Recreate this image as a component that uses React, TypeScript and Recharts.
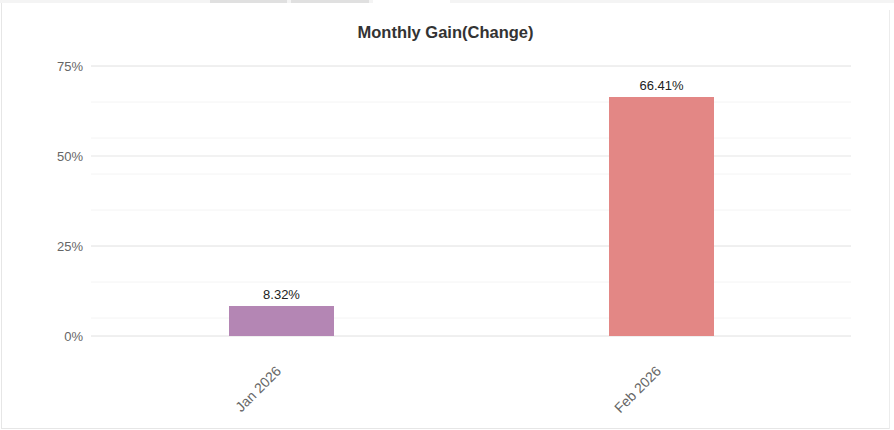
import React from "react";
import { BarChart, Bar, XAxis, YAxis, CartesianGrid, Cell, LabelList } from "recharts";

const months = ["Jan 2026", "Feb 2026"];
const gains = [8.32, 66.41];
const barColors = ["#b486b4", "#e38785"];
const yTicks = [0, 25, 50, 75];
const minorTicks = [0, 5, 10, 15, 20, 25, 30, 35, 40, 45, 50, 55, 60, 65, 70, 75];
const title = "Monthly Gain(Change)";

const data = months.map((m, i) => ({ month: m, gain: gains[i] }));

const FONT = '"Liberation Sans", Arial, sans-serif';

const XTick = (props: any) => {
  const { x, y, payload } = props;
  const ax = x + 1;
  const ay = y + 28;
  return (
    <text
      x={ax}
      y={ay}
      textAnchor="end"
      fill="#666"
      fontSize={14}
      fontFamily={FONT}
      transform={`rotate(-45, ${ax}, ${ay})`}
    >
      {payload.value}
    </text>
  );
};

export default function App() {
  return (
    <div style={{ position: "absolute", left: 0, top: 0, width: 894, height: 430, background: "#fff", overflow: "hidden" }}>
      {/* top strip and tabs */}
      <div style={{ position: "absolute", left: 0, top: 0, width: 373, height: 3, background: "#f4f4f4" }} />
      <div style={{ position: "absolute", left: 450, top: 0, width: 444, height: 3, background: "#f4f4f4" }} />
      <div style={{ position: "absolute", left: 210, top: 0, width: 77, height: 3, background: "#e0e0e0" }} />
      <div style={{ position: "absolute", left: 291, top: 0, width: 78, height: 3, background: "#e0e0e0" }} />
      {/* borders */}
      <div style={{ position: "absolute", left: 1, top: 3, width: 1, height: 426, background: "#e6e6e6" }} />
      <div style={{ position: "absolute", left: 1, top: 428, width: 889, height: 1, background: "#e6e6e6" }} />
      <div style={{ position: "absolute", left: 889, top: 10, width: 1, height: 419, background: "#ececec" }} />
      {/* title */}
      <div
        style={{
          position: "absolute",
          left: 0,
          top: 24,
          width: 891,
          textAlign: "center",
          fontFamily: FONT,
          fontWeight: "bold",
          fontSize: 16.5,
          lineHeight: "16px",
          color: "#333",
        }}
      >
        {title}
      </div>
      <div style={{ position: "absolute", left: 0, top: 0 }}>
        <BarChart width={894} height={430} data={data} margin={{ top: 66, right: 43, bottom: 0, left: 0 }}>
          <CartesianGrid yAxisId="minor" vertical={false} stroke="#f4f4f4" strokeWidth={1} />
          <CartesianGrid yAxisId="main" vertical={false} stroke="#e6e6e6" strokeWidth={1.2} />
          <XAxis
            dataKey="month"
            height={94}
            axisLine={false}
            tickLine={false}
            interval={0}
            tick={<XTick />}
          />
          <YAxis
            yAxisId="minor"
            hide
            domain={[0, 75]}
            ticks={minorTicks}
            type="number"
            allowDataOverflow
          />
          <YAxis
            yAxisId="main"
            width={91}
            domain={[0, 75]}
            ticks={yTicks}
            type="number"
            axisLine={false}
            tickLine={false}
            tickSize={0}
            tickMargin={8}
            tickFormatter={(v: number) => `${v}%`}
            tick={{ fill: "#666", fontSize: 13, fontFamily: FONT }}
          />
          <Bar yAxisId="main" dataKey="gain" barSize={105} isAnimationActive={false}>
            {data.map((d, i) => (
              <Cell key={d.month} fill={barColors[i]} />
            ))}
            <LabelList
              dataKey="gain"
              position="top"
              offset={7}
              formatter={(v: any) => `${Number(v).toFixed(2)}%`}
              style={{ fill: "#222", fontSize: 13, fontFamily: FONT }}
            />
          </Bar>
        </BarChart>
      </div>
    </div>
  );
}
